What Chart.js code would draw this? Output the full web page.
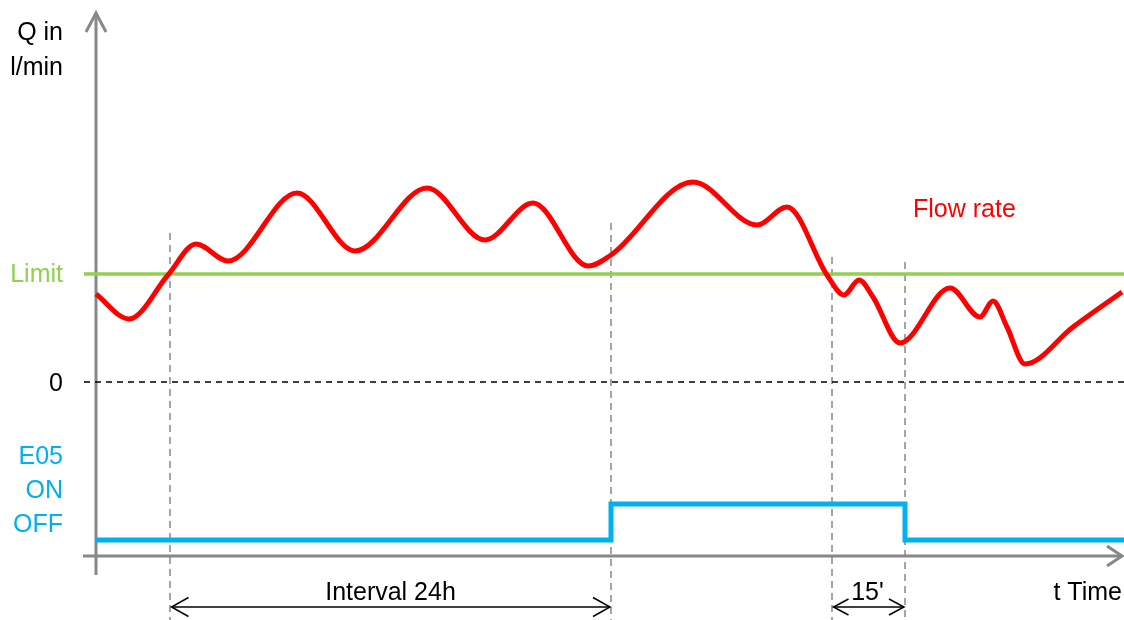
<!DOCTYPE html>
<html>
<head>
<meta charset="utf-8">
<script src="https://cdn.jsdelivr.net/npm/chart.js@4.4.0/dist/chart.umd.min.js"></script>
<style>
    html, body { margin: 0; padding: 0; background: #fff; }
    #wrap { width: 1124px; height: 620px; }
</style>
</head>
<body>
<div id="wrap"><canvas id="myChart"></canvas></div>
<script>
"use strict";

//region Data
// time in sketch units (0 = origin), flow in sketch units (0 = zero line)
const flowTime = [0, 3.3, 7.2, 10.0, 13.2, 20.1, 25.9, 33.1, 38.9, 43.7, 49.2, 51.5, 59.7, 66.1, 69.1, 73.1, 74.8, 76.3, 77.7, 80.4, 85.4, 88.4, 89.7, 91.1, 92.9, 97.7, 102.6];
const flowRate = [8.8, 6.3, 10.7, 13.8, 12.1, 18.9, 13.1, 19.4, 14.2, 17.9, 11.6, 12.7, 20.0, 15.7, 17.5, 10.7, 8.7, 10.2, 8.5, 3.9, 9.4, 6.5, 8.1, 5.5, 1.8, 5.5, 9.0];
const limitValue = 10.8;
const zeroValue = 0;
const signalTime = [0, 51.5, 51.5, 80.9, 80.9, 102.8];
const signalState = [0, 0, 1, 1, 0, 0]; // 0 = OFF, 1 = ON
const markerTime = [7.4, 51.5, 73.6, 80.9];
const markerTop = [14.9, 15.9, 12.5, 12.0];
const intervalLabels = ["Interval 24h", "15'"];
//endregion

//region Colors
const RED = "#ff0000";
const GREEN = "#92d050";
const BLUE = "#00b0f0";
const GREY = "#888888";
const FONT = "25px 'Liberation Sans', Arial, sans-serif";
//endregion

function pts(xs, ys) {
    let out = [];
    for (let i = 0; i < xs.length; i++) out.push({x: xs[i], y: ys[i]});
    return out;
}

let datasets = [];

// dashed marker lines
for (let i = 0; i < markerTime.length; i++) {
    datasets.push({
        data: pts([markerTime[i], markerTime[i]], [markerTop[i], -23.8]),
        borderColor: GREY, borderWidth: 1.5, borderDash: [7, 5],
        pointRadius: 0, order: 5
    });
}
datasets.push({
    data: pts([-1.2, 102.8], [limitValue, limitValue]),
    borderColor: GREEN, borderWidth: 3.5, pointRadius: 0, order: 3
});
datasets.push({
    data: pts([-1.2, 102.8], [zeroValue, zeroValue]),
    borderColor: "#000", borderWidth: 1.5, borderDash: [6, 5], pointRadius: 0, order: 3
});
datasets.push({
    data: pts(flowTime, flowRate),
    borderColor: RED, borderWidth: 5, pointRadius: 0,
    cubicInterpolationMode: "monotone", borderCapStyle: "butt", order: 1
});
datasets.push({
    data: pts(signalTime, signalState),
    yAxisID: "ySig",
    borderColor: BLUE, borderWidth: 5, pointRadius: 0, borderJoinStyle: "miter", order: 2
});

function arrowHead(ctx, tx, ty, bx, by, half, vertical) {
    ctx.beginPath();
    if (vertical) {
        ctx.moveTo(tx - half, by); ctx.lineTo(tx, ty); ctx.lineTo(tx + half, by);
    } else {
        ctx.moveTo(bx, ty - half); ctx.lineTo(tx, ty); ctx.lineTo(bx, ty + half);
    }
    ctx.stroke();
}

const sketchPlugin = {
    id: "sketch",
    beforeDatasetsDraw(chart) {
        let ctx = chart.ctx, xs = chart.scales.x, ys = chart.scales.y;
        ctx.save();
        ctx.strokeStyle = GREY;
        ctx.lineWidth = 3;
        // vertical axis
        let ax = xs.getPixelForValue(0);
        let yTop = ys.getPixelForValue(36.9), yBot = ys.getPixelForValue(-19.3);
        ctx.beginPath(); ctx.moveTo(ax, yBot); ctx.lineTo(ax, yTop + 1); ctx.stroke();
        arrowHead(ctx, ax, yTop, 0, yTop + 19, 10, true);
        // time axis
        let ay = ys.getPixelForValue(-17.4);
        let xL = xs.getPixelForValue(-1.3), xR = xs.getPixelForValue(102.6);
        ctx.beginPath(); ctx.moveTo(xL, ay); ctx.lineTo(xR - 1, ay); ctx.stroke();
        arrowHead(ctx, xR, ay, xR - 15, 0, 10, false);
        ctx.restore();
    },
    afterDraw(chart) {
        let ctx = chart.ctx, xs = chart.scales.x, ys = chart.scales.y, ss = chart.scales.ySig;
        ctx.save();
        // dimension arrows
        ctx.strokeStyle = "#000";
        ctx.lineWidth = 1.5;
        let dimY = ys.getPixelForValue(-22.5);
        let spans = [[markerTime[0], markerTime[1], 17, 9.5], [markerTime[2], markerTime[3], 15, 8]];
        for (let i = 0; i < spans.length; i++) {
            let a = xs.getPixelForValue(spans[i][0]) + 1.5, b = xs.getPixelForValue(spans[i][1]) - 1;
            ctx.beginPath(); ctx.moveTo(a, dimY); ctx.lineTo(b, dimY); ctx.stroke();
            arrowHead(ctx, a, dimY, a + spans[i][2], 0, spans[i][3], false);
            arrowHead(ctx, b, dimY, b - spans[i][2], 0, spans[i][3], false);
        }

        ctx.font = FONT;
        ctx.textBaseline = "middle";
        // left labels
        ctx.textAlign = "right";
        let lx = 63;
        ctx.fillStyle = "#000";
        ctx.fillText("Q in", lx, 33);
        ctx.fillText("l/min", lx, 68);
        ctx.fillText("0", lx, ys.getPixelForValue(zeroValue) + 2);
        ctx.fillStyle = GREEN;
        ctx.fillText("Limit", lx, ys.getPixelForValue(limitValue) + 1);
        ctx.fillStyle = BLUE;
        ctx.fillText("E05", lx, ss.getPixelForValue(2.3));
        ctx.fillText("ON", lx, ss.getPixelForValue(1.35));
        ctx.fillText("OFF", lx, ss.getPixelForValue(0.42));

        // span labels
        ctx.textAlign = "center";
        ctx.fillStyle = "#000";
        let ty = ys.getPixelForValue(-21.1);
        ctx.fillText(intervalLabels[0], (xs.getPixelForValue(markerTime[0]) + xs.getPixelForValue(markerTime[1])) / 2, ty);
        ctx.fillText(intervalLabels[1], (xs.getPixelForValue(markerTime[2]) + xs.getPixelForValue(markerTime[3])) / 2 - 1, ty);

        ctx.textAlign = "right";
        ctx.fillText("t Time", 1122, ty);

        ctx.textAlign = "left";
        ctx.fillStyle = RED;
        ctx.fillText("Flow rate", 913, ys.getPixelForValue(17.2));
        ctx.restore();
    }
};

let newChart = new Chart(document.getElementById("myChart"), {
    type: "line",
    data: { datasets: datasets },
    options: {
        responsive: true,
        maintainAspectRatio: false,
        animation: false,
        layout: { padding: 0 },
        plugins: { legend: { display: false }, tooltip: { enabled: false } },
        scales: {
            x: { type: "linear", min: -9.6, max: 102.8, display: false },
            y: { type: "linear", min: -23.8, max: 38.2, display: false },
            ySig: { type: "linear", min: -2.2222, max: 15, display: false }
        }
    },
    plugins: [sketchPlugin]
});
</script>
</body>
</html>
